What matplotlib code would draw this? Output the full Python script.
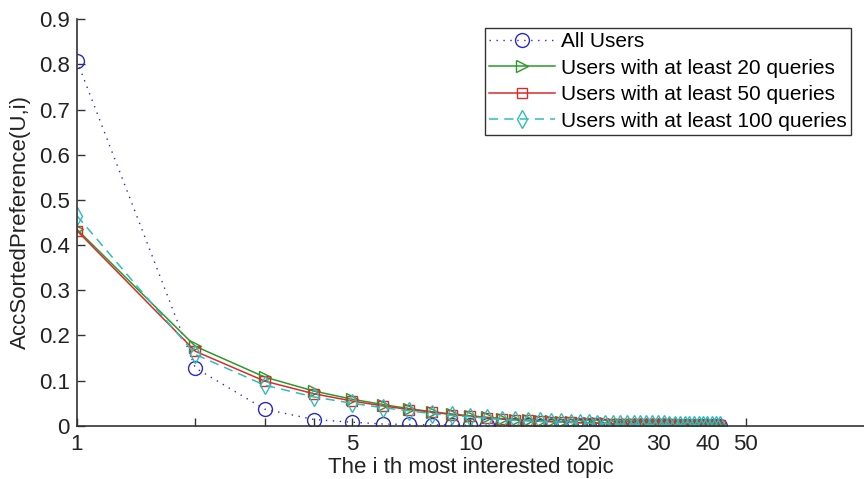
import matplotlib
matplotlib.use('Agg')
import matplotlib.pyplot as plt
from matplotlib.ticker import FixedLocator, NullFormatter

plt.rcParams['font.family'] = ['Liberation Sans', 'DejaVu Sans']

topic_rank = list(range(1, 44))

all_users = [0.808, 0.128, 0.037, 0.014, 0.008, 0.004, 0.003, 0.002, 0.002, 0.001,
             0.001, 0.001, 0.001, 0.001, 0.0, 0.0, 0.0, 0.0, 0.0, 0.0,
             0.0, 0.0, 0.0, 0.0, 0.0, 0.0, 0.0, 0.0, 0.0, 0.0,
             0.0, 0.0, 0.0, 0.0, 0.0, 0.0, 0.0, 0.0, 0.0, 0.0,
             0.0, 0.0, 0.0]
users_20 = [0.435, 0.176, 0.108, 0.077, 0.059, 0.047, 0.038, 0.031, 0.026, 0.022,
            0.019, 0.016, 0.014, 0.012, 0.011, 0.010, 0.009, 0.008, 0.007, 0.007,
            0.006, 0.006, 0.005, 0.005, 0.005, 0.004, 0.004, 0.004, 0.004, 0.003,
            0.003, 0.003, 0.003, 0.003, 0.002, 0.002, 0.002, 0.002, 0.002, 0.002,
            0.002, 0.002, 0.002]
users_50 = [0.432, 0.165, 0.099, 0.071, 0.055, 0.044, 0.036, 0.030, 0.025, 0.021,
            0.018, 0.015, 0.013, 0.012, 0.010, 0.009, 0.008, 0.008, 0.007, 0.006,
            0.006, 0.005, 0.005, 0.005, 0.004, 0.004, 0.004, 0.003, 0.003, 0.003,
            0.003, 0.003, 0.002, 0.002, 0.002, 0.002, 0.002, 0.002, 0.002, 0.002,
            0.001, 0.001, 0.001]
users_100 = [0.465, 0.158, 0.090, 0.064, 0.050, 0.040, 0.033, 0.027, 0.023, 0.020,
             0.017, 0.014, 0.012, 0.011, 0.010, 0.009, 0.008, 0.007, 0.006, 0.006,
             0.005, 0.005, 0.005, 0.004, 0.004, 0.004, 0.003, 0.003, 0.003, 0.003,
             0.003, 0.002, 0.002, 0.002, 0.002, 0.002, 0.002, 0.002, 0.002, 0.001,
             0.001, 0.001, 0.001]

labels = ['All Users', 'Users with at least 20 queries',
          'Users with at least 50 queries', 'Users with at least 100 queries']
x_ticks = [1, 5, 10, 20, 30, 40, 50]
x_minor = [2, 3, 4]

fig = plt.figure(figsize=(8.64, 4.79), dpi=100)
ax = fig.add_axes([0.089, 0.111, 0.911, 0.849])

ax.plot(topic_rank, all_users, color='#2a2ac8', ls=(0, (1, 4)), lw=1.0, marker='o',
        ms=10, mfc='none', mew=1.0, label=labels[0])
ax.plot(topic_rank, users_20, color='#2a9a2a', ls='-', lw=1.1, marker='>',
        ms=9, mfc='none', mew=1.0, label=labels[1])
ax.plot(topic_rank, users_50, color='#dd2a2a', ls='-', lw=1.1, marker='s',
        ms=7, mfc='none', mew=1.0, label=labels[2])
ax.plot(topic_rank, users_100, color='#30bcbc', ls=(0, (6, 4)), lw=1.1, marker='d',
        ms=9, mfc='none', mew=1.0, label=labels[3])

ax.set_xscale('log')
ax.set_xlim(1, 100)
ax.set_ylim(0, 0.9)
ax.xaxis.set_major_locator(FixedLocator(x_ticks))
ax.set_xticklabels([str(t) for t in x_ticks])
ax.xaxis.set_minor_locator(FixedLocator(x_minor))
ax.xaxis.set_minor_formatter(NullFormatter())
ax.set_yticks([i / 10 for i in range(10)])
ax.set_yticklabels(['0'] + ['%.1f' % (i / 10) for i in range(1, 10)])

for side in ['top', 'right']:
    ax.spines[side].set_visible(False)
for side in ['left', 'bottom']:
    ax.spines[side].set_color('#333333')
    ax.spines[side].set_linewidth(1.2)
ax.tick_params(axis='both', which='both', direction='in', length=6,
               width=1.0, color='#333333', labelsize=16, labelcolor='#222222')
ax.tick_params(axis='x', pad=6)
ax.tick_params(axis='y', pad=5)

ax.set_xlabel('The i th most interested topic', fontsize=16, color='#222222', labelpad=1)
ax.set_ylabel('AccSortedPreference(U,i)', fontsize=16, color='#222222', labelpad=6)

leg = ax.legend(loc='upper right', bbox_to_anchor=(0.983, 0.978), fontsize=15,
                handlelength=3.2, handletextpad=0.25, borderpad=0.2,
                labelspacing=0.36, borderaxespad=0, fancybox=False, framealpha=1)
leg.get_frame().set_edgecolor('#333333')
leg.get_frame().set_linewidth(1.0)

fig.savefig('out.png', dpi=100)
